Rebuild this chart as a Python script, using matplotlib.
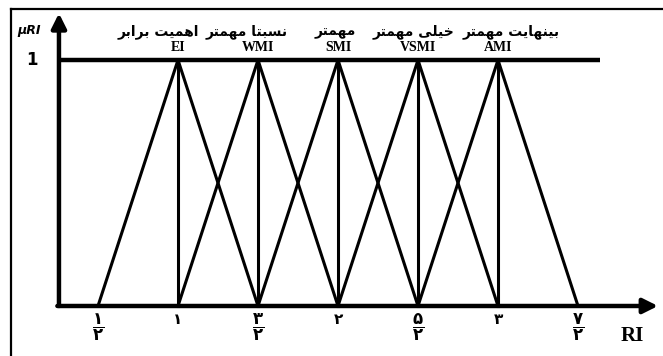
import matplotlib
matplotlib.use("Agg")
import matplotlib.pyplot as plt
from matplotlib.lines import Line2D

# fuzzy numbers (lower, middle, upper) of the five importance levels
lower = [0.5, 1.0, 1.5, 2.0, 2.5]
middle = [1.0, 1.5, 2.0, 2.5, 3.0]
upper = [1.5, 2.0, 2.5, 3.0, 3.5]
abbrevs = ["EI", "WMI", "SMI", "VSMI", "AMI"]
fa_labels = ["اهمیت برابر", "نسبتا مهمتر", "مهمتر", "خیلی مهمتر", "بینهایت مهمتر"]
fa_shift = [-0.12, -0.07, -0.02, -0.03, 0.08]

tick_values = [0.5, 1.0, 1.5, 2.0, 2.5, 3.0, 3.5]
tick_labels = [r"$\dfrac{\mathbf{۱}}{\mathbf{۲}}$", "۱", r"$\dfrac{\mathbf{۳}}{\mathbf{۲}}$", "۲",
               r"$\dfrac{\mathbf{۵}}{\mathbf{۲}}$", "۳", r"$\dfrac{\mathbf{۷}}{\mathbf{۲}}$"]

# arabic presentation forms: isolated, final, initial, medial
FORMS = {
    "ا": ("\uFE8D", "\uFE8E", None, None),
    "ر": ("\uFEAD", "\uFEAE", None, None),
    "ب": ("\uFE8F", "\uFE90", "\uFE91", "\uFE92"),
    "ت": ("\uFE95", "\uFE96", "\uFE97", "\uFE98"),
    "خ": ("\uFEA5", "\uFEA6", "\uFEA7", "\uFEA8"),
    "س": ("\uFEB1", "\uFEB2", "\uFEB3", "\uFEB4"),
    "ل": ("\uFEDD", "\uFEDE", "\uFEDF", "\uFEE0"),
    "م": ("\uFEE1", "\uFEE2", "\uFEE3", "\uFEE4"),
    "ن": ("\uFEE5", "\uFEE6", "\uFEE7", "\uFEE8"),
    "ه": ("\uFEE9", "\uFEEA", "\uFEEB", "\uFEEC"),
    "ی": ("\uFBFC", "\uFBFD", "\uFBFE", "\uFBFF"),
}


def shape_fa(text):
    """
    join persian letters and put them in visual order
    """
    out = []
    for i, c in enumerate(text):
        if c not in FORMS:
            out.append(c)
            continue
        prev = text[i - 1] if i > 0 else " "
        nxt = text[i + 1] if i < len(text) - 1 else " "
        join_prev = prev in FORMS and FORMS[prev][2] is not None
        join_next = nxt in FORMS and FORMS[c][2] is not None
        iso, fin, ini, med = FORMS[c]
        if join_prev and join_next:
            out.append(med)
        elif join_prev:
            out.append(fin)
        elif join_next:
            out.append(ini)
        else:
            out.append(iso)
    return "".join(out)[::-1]


fig = plt.figure(figsize=(6.63, 3.56), dpi=100)
ax = fig.add_axes([0, 0, 1, 1])
ax.set_xlim(-0.1125, 4.03125)
ax.set_ylim(-0.2033, 1.2439)
ax.axis("off")

x0 = 0.256
# axes with arrows
ax.annotate("", xy=(x0, 1.19), xytext=(x0, 0), arrowprops=dict(arrowstyle="-|>", lw=3.2, color="black", mutation_scale=22, shrinkA=0, shrinkB=0))
ax.annotate("", xy=(4.0, 0), xytext=(x0 - 0.01, 0), arrowprops=dict(arrowstyle="-|>", lw=3.2, color="black", mutation_scale=22, shrinkA=0, shrinkB=0))
ax.plot([x0, 3.64], [1, 1], color="black", lw=3.2, solid_capstyle="butt")

for a, m, b in zip(lower, middle, upper):
    ax.plot([a, m, b], [0, 1, 0], color="black", lw=2.2, solid_joinstyle="miter")
    ax.plot([m, m], [0, 1], color="black", lw=2.2)

for m, ab, fa, s in zip(middle, abbrevs, fa_labels, fa_shift):
    ax.text(m, 1.049, ab, ha="center", va="center", fontsize=10, fontweight="bold", family="Liberation Serif")
    ax.text(m + s, 1.10, shape_fa(fa), ha="center", va="baseline", fontsize=10, fontweight="bold", family="DejaVu Sans")

for v, lab in zip(tick_values, tick_labels):
    size = 12 if lab.startswith("$") else 11
    ax.text(v, -0.024, lab, ha="center", va="top", fontsize=size, fontweight="bold")

ax.text(0.09, 1.0, "1", ha="center", va="center", fontsize=12, fontweight="bold")
ax.text(0.07, 1.12, "μRI", ha="center", va="center", fontsize=9, fontweight="bold", style="italic")
ax.text(3.84, -0.12, "RI", ha="center", va="center", fontsize=15, fontweight="bold", family="Liberation Serif")

# frame of the picture
fig.add_artist(Line2D([11 / 663, 1], [1 - 9 / 356, 1 - 9 / 356], color="black", lw=1.6, transform=fig.transFigure))
fig.add_artist(Line2D([11 / 663, 11 / 663], [0, 1 - 9 / 356], color="black", lw=1.6, transform=fig.transFigure))

plt.savefig("out.png", dpi=100)
